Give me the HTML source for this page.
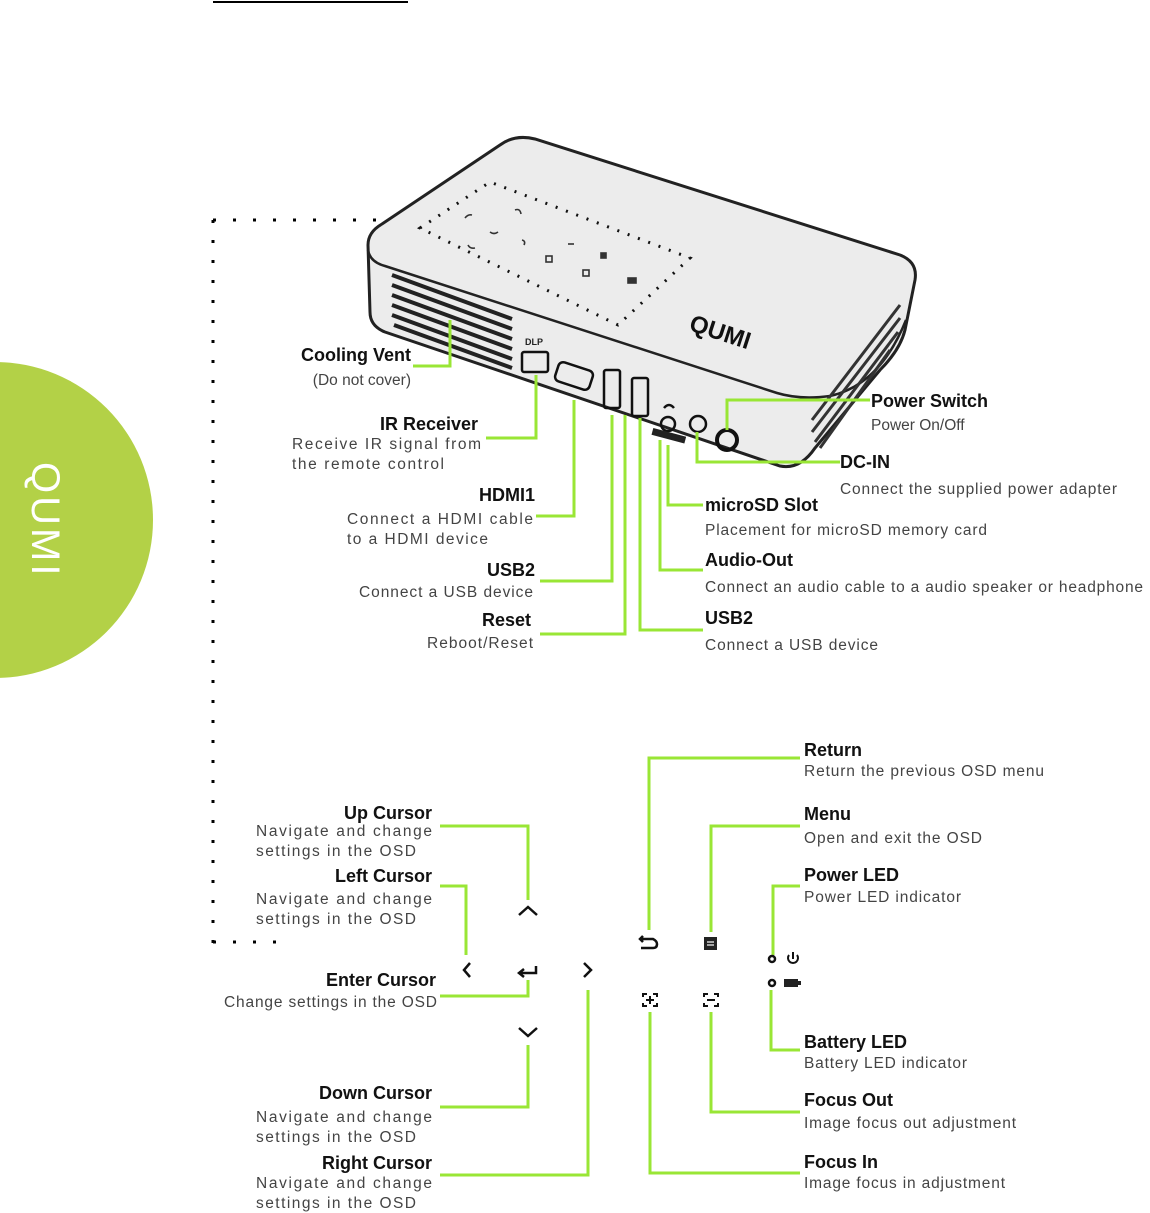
<!DOCTYPE html>
<html><head><meta charset="utf-8"><style>
html,body{margin:0;padding:0;background:#fff;}
svg{display:block;}
.t{font-family:"Liberation Sans",sans-serif;font-weight:bold;font-size:18px;fill:#111;}
.d{font-family:"Liberation Sans",sans-serif;font-size:15.5px;fill:#444;}
.g{fill:none;stroke:#99e635;stroke-width:3;}
.k{fill:none;stroke:#111;stroke-width:2.5;}
</style></head><body>
<svg width="1150" height="1213" viewBox="0 0 1150 1213" xmlns="http://www.w3.org/2000/svg">
<line x1="213" y1="2" x2="408" y2="2" stroke="#000" stroke-width="2"/>
<circle cx="-5" cy="520" r="158" fill="#b3d147"/>
<text x="0" y="0" transform="translate(32,462) rotate(90)" font-family="Liberation Sans,sans-serif" font-size="40" fill="#fff" letter-spacing="3">QUMI</text>

<line x1="213" y1="220" x2="380" y2="220" stroke="#000" stroke-width="3" stroke-dasharray="3 17"/>
<line x1="213" y1="220" x2="213" y2="945" stroke="#000" stroke-width="3" stroke-dasharray="3 17"/>
<line x1="213" y1="942" x2="280" y2="942" stroke="#000" stroke-width="3" stroke-dasharray="3 17"/>

<!-- device body -->
<path d="M368,245 Q368,232 382,224 L500,145 Q515,134 535,139 L900,255 Q918,262 915,280 L905,330 Q900,350 880,370 L815,448 Q800,470 780,466 L385,332 Q370,326 370,312 Z" fill="#ececec" stroke="#222" stroke-width="3"/>
<path d="M368,250 Q370,262 385,266 L777,393 Q800,400 830,396 Q880,385 906,320" fill="none" stroke="#222" stroke-width="2.5"/>
<!-- vent -->
<g stroke="#222" stroke-width="4">
<line x1="392" y1="275" x2="512" y2="319"/><line x1="392" y1="285" x2="512" y2="329"/>
<line x1="392" y1="295" x2="512" y2="339"/><line x1="392" y1="305" x2="512" y2="349"/>
<line x1="392" y1="315" x2="512" y2="359"/><line x1="394" y1="325" x2="512" y2="368"/>
</g>
<g stroke="#333" stroke-width="3">
<line x1="812" y1="420" x2="900" y2="305"/><line x1="812" y1="432" x2="900" y2="318"/>
<line x1="815" y1="442" x2="898" y2="332"/><line x1="820" y1="448" x2="890" y2="350"/>
</g>
<path d="M420,228 L490,182 L690,258 L618,325 Z" fill="none" stroke="#111" stroke-width="3" stroke-dasharray="2 9"/>
<g fill="none" stroke="#333" stroke-width="1.6">
<path d="M465,218 q3,-4 7,-3"/><path d="M515,210 q5,-2 6,4"/><path d="M490,232 q4,3 8,0"/>
<path d="M468,245 q2,4 7,3"/><path d="M522,240 q4,1 2,5"/><path d="M568,244 h6"/>
<rect x="546" y="256" width="6" height="6"/><rect x="583" y="270" width="6" height="6"/>
<rect x="601" y="253" width="5" height="5" fill="#333"/><rect x="628" y="278" width="8" height="5" fill="#333"/>
</g>
<text x="688" y="330" transform="rotate(18 688 330)" font-family="Liberation Sans,sans-serif" font-weight="bold" font-size="24" fill="#111">QUMI</text>
<text x="525" y="345" font-family="Liberation Sans,sans-serif" font-size="9" font-weight="bold" fill="#222">DLP</text>
<rect x="522" y="352" width="26" height="20" class="k" rx="2"/>
<rect x="556" y="366" width="36" height="20" class="k" rx="5" transform="rotate(18 574 376)"/>
<rect x="604" y="370" width="16" height="38" class="k" rx="2"/>
<rect x="632" y="378" width="16" height="38" class="k" rx="2"/>
<path d="M664,408 q5,-6 10,0" class="k"/>
<circle cx="668" cy="424" r="7" class="k"/>
<rect x="652" y="432" width="34" height="7" fill="#222" transform="rotate(15 668 435)"/>
<circle cx="698" cy="424" r="8" class="k"/>
<circle cx="727" cy="440" r="10" stroke="#111" stroke-width="4" fill="none"/>

<path class="g" d="M413,366 H450 V320"/>
<path class="g" d="M486,438 H536 V375"/>
<path class="g" d="M536,516 H574 V400"/>
<path class="g" d="M540,581 H612 V415"/>
<path class="g" d="M540,634 H625 V415"/>
<path class="g" d="M703,630 H640 V418"/>
<path class="g" d="M703,570 H660 V440"/>
<path class="g" d="M703,505 H668 V445"/>
<path class="g" d="M840,462 H697 V432"/>
<path class="g" d="M870,400 H727 V430"/>

<text class="t" x="411" y="361" text-anchor="end">Cooling Vent</text>
<text class="d" x="411" y="385" text-anchor="end" fill="#111">(Do not cover)</text>
<text class="t" x="478" y="430" text-anchor="end">IR Receiver</text>
<text class="d" x="292" y="449" textLength="189">Receive IR signal from</text>
<text class="d" x="292" y="469" textLength="152">the remote control</text>
<text class="t" x="535" y="501" text-anchor="end">HDMI1</text>
<text class="d" x="347" y="524" textLength="186">Connect a HDMI cable</text>
<text class="d" x="347" y="544" textLength="141">to a HDMI device</text>
<text class="t" x="535" y="576" text-anchor="end">USB2</text>
<text class="d" x="359" y="597" textLength="174">Connect a USB device</text>
<text class="t" x="531" y="626" text-anchor="end">Reset</text>
<text class="d" x="427" y="648" textLength="106">Reboot/Reset</text>

<text class="t" x="871" y="407">Power Switch</text>
<text class="d" x="871" y="430">Power On/Off</text>
<text class="t" x="840" y="468">DC-IN</text>
<text class="d" x="840" y="494" textLength="277">Connect the supplied power adapter</text>
<text class="t" x="705" y="511">microSD Slot</text>
<text class="d" x="705" y="535" textLength="282">Placement for microSD memory card</text>
<text class="t" x="705" y="566">Audio-Out</text>
<text class="d" x="705" y="592" textLength="438">Connect an audio cable to a audio speaker or headphone</text>
<text class="t" x="705" y="624">USB2</text>
<text class="d" x="705" y="650" textLength="173">Connect a USB device</text>

<path class="g" d="M440,826 H528 V900"/>
<path class="g" d="M440,886 H466 V955"/>
<path class="g" d="M440,996 H528 V980"/>
<path class="g" d="M440,1175 H588 V990"/>
<path class="g" d="M440,1107 H528 V1045"/>
<path class="g" d="M800,758 H649 V930"/>
<path class="g" d="M800,826 H711 V932"/>
<path class="g" d="M800,886 H773 V955"/>
<path class="g" d="M800,1050 H771 V990"/>
<path class="g" d="M800,1112 H711 V1012"/>
<path class="g" d="M800,1173 H650 V1012"/>

<path class="k" d="M519,915 L528,907 L537,915"/>
<path class="k" d="M470,963 L464,970 L470,977"/>
<path class="k" d="M584,963 L591,970 L584,977"/>
<path class="k" d="M519,1028 L528,1036 L537,1028"/>
<path class="k" d="M536,966 V973 H520 M524,969 L519,973 L524,977"/>
<path class="k" d="M641,939 H653 Q657,941 657,944 Q657,948 653,948 H641 M643,936 L640,939 L643,942"/>
<rect x="704" y="937" width="13" height="13" fill="#222"/>
<line x1="707" y1="942" x2="714" y2="942" stroke="#fff" stroke-width="1.2"/><line x1="707" y1="945" x2="714" y2="945" stroke="#fff" stroke-width="1.2"/>
<circle cx="772" cy="959" r="3" fill="none" stroke="#111" stroke-width="2.5"/>
<path d="M789,955 A5,5 0 1 0 797,955 M793,952 V959" fill="none" stroke="#111" stroke-width="2"/>
<circle cx="772" cy="983" r="3" fill="none" stroke="#111" stroke-width="2.5"/>
<rect x="784" y="979" width="14" height="8" fill="#222"/><rect x="798" y="981" width="3" height="4" fill="#222"/>
<g fill="none" stroke="#111" stroke-width="2">
<path d="M643,997 V994 H647 M653,994 H657 V997 M657,1003 V1006 H653 M647,1006 H643 V1003"/>
<path d="M646,1000 H654 M650,996 V1004"/>
<path d="M704,997 V994 H708 M714,994 H718 V997 M718,1003 V1006 H714 M708,1006 H704 V1003"/>
<path d="M707,1000 H715"/>
</g>

<text class="t" x="432" y="819" text-anchor="end">Up Cursor</text>
<text class="d" x="256" y="836" textLength="176">Navigate and change</text>
<text class="d" x="256" y="856" textLength="160">settings in the OSD</text>
<text class="t" x="432" y="882" text-anchor="end">Left Cursor</text>
<text class="d" x="256" y="904" textLength="176">Navigate and change</text>
<text class="d" x="256" y="924" textLength="160">settings in the OSD</text>
<text class="t" x="436" y="986" text-anchor="end">Enter Cursor</text>
<text class="d" x="224" y="1007" textLength="213">Change settings in the OSD</text>
<text class="t" x="432" y="1099" text-anchor="end">Down Cursor</text>
<text class="d" x="256" y="1122" textLength="176">Navigate and change</text>
<text class="d" x="256" y="1142" textLength="160">settings in the OSD</text>
<text class="t" x="432" y="1169" text-anchor="end">Right Cursor</text>
<text class="d" x="256" y="1188" textLength="176">Navigate and change</text>
<text class="d" x="256" y="1208" textLength="160">settings in the OSD</text>

<text class="t" x="804" y="756">Return</text>
<text class="d" x="804" y="776" textLength="240">Return the previous OSD menu</text>
<text class="t" x="804" y="820">Menu</text>
<text class="d" x="804" y="843" textLength="178">Open and exit the OSD</text>
<text class="t" x="804" y="881">Power LED</text>
<text class="d" x="804" y="902" textLength="157">Power LED indicator</text>
<text class="t" x="804" y="1048">Battery LED</text>
<text class="d" x="804" y="1068" textLength="163">Battery LED indicator</text>
<text class="t" x="804" y="1106">Focus Out</text>
<text class="d" x="804" y="1128" textLength="212">Image focus out adjustment</text>
<text class="t" x="804" y="1168">Focus In</text>
<text class="d" x="804" y="1188" textLength="201">Image focus in adjustment</text>
</svg>
</body></html>
